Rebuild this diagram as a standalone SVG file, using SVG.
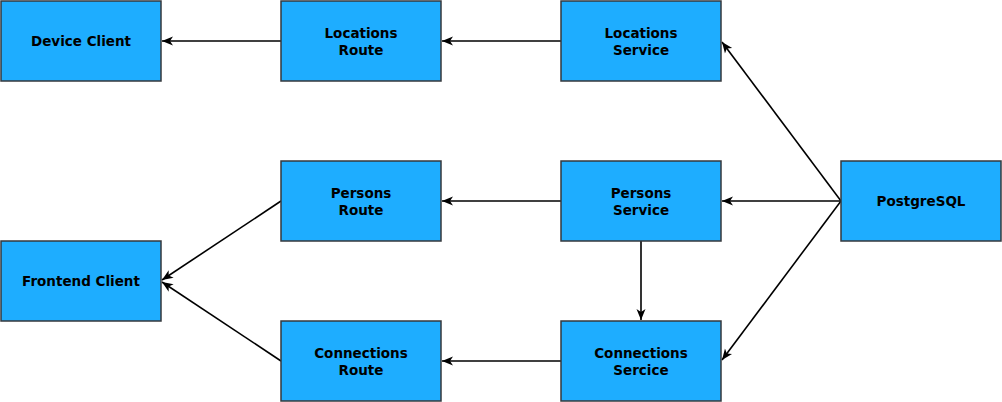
<svg xmlns="http://www.w3.org/2000/svg" width="1002" height="402" viewBox="0 0 1002 402">
<style>
.box{fill:#1eadff;stroke:#36393d;stroke-width:1.5}
.t{font-family:"DejaVu Sans",sans-serif;font-weight:bold;font-size:13.5px;fill:#000;text-anchor:middle}
.e{stroke:#000;stroke-width:1.6;fill:none;marker-end:url(#a)}
</style>
<defs>
<marker id="a" markerUnits="userSpaceOnUse" markerWidth="13" markerHeight="11" refX="11" refY="5" orient="auto">
<path d="M0,0.5 L11,5 L0,9.5 L3,5 Z" fill="#000"/>
</marker>
</defs>
<g id="connectors">
<line class="e" x1="281" y1="41" x2="162" y2="41"/>
<line class="e" x1="561" y1="41" x2="442" y2="41"/>
<line class="e" x1="561" y1="201" x2="442" y2="201"/>
<line class="e" x1="561" y1="361" x2="442" y2="361"/>
<line class="e" x1="281" y1="201" x2="162" y2="280"/>
<line class="e" x1="281" y1="361" x2="162" y2="282"/>
<line class="e" x1="841" y1="201" x2="722" y2="42"/>
<line class="e" x1="841" y1="201" x2="722" y2="201"/>
<line class="e" x1="841" y1="201" x2="722" y2="360"/>
<line class="e" x1="641" y1="241" x2="641" y2="320"/>
</g>
<g id="device-client"><rect class="box" x="1" y="1" width="160" height="80"/><text class="t" x="81" y="46.3">Device Client</text></g>
<g id="locations-route"><rect class="box" x="281" y="1" width="160" height="80"/><text class="t" x="361" y="38.4">Locations</text><text class="t" x="361" y="54.8">Route</text></g>
<g id="locations-service"><rect class="box" x="561" y="1" width="160" height="80"/><text class="t" x="641" y="38.4">Locations</text><text class="t" x="641" y="54.8">Service</text></g>
<g id="persons-route"><rect class="box" x="281" y="161" width="160" height="80"/><text class="t" x="361" y="198.4">Persons</text><text class="t" x="361" y="214.8">Route</text></g>
<g id="persons-service"><rect class="box" x="561" y="161" width="160" height="80"/><text class="t" x="641" y="198.4">Persons</text><text class="t" x="641" y="214.8">Service</text></g>
<g id="postgresql"><rect class="box" x="841" y="161" width="160" height="80"/><text class="t" x="921" y="206.3">PostgreSQL</text></g>
<g id="frontend-client"><rect class="box" x="1" y="241" width="160" height="80"/><text class="t" x="81" y="286.3">Frontend Client</text></g>
<g id="connections-route"><rect class="box" x="281" y="321" width="160" height="80"/><text class="t" x="361" y="358.4">Connections</text><text class="t" x="361" y="374.8">Route</text></g>
<g id="connections-service"><rect class="box" x="561" y="321" width="160" height="80"/><text class="t" x="641" y="358.4">Connections</text><text class="t" x="641" y="374.8">Sercice</text></g>
</svg>
